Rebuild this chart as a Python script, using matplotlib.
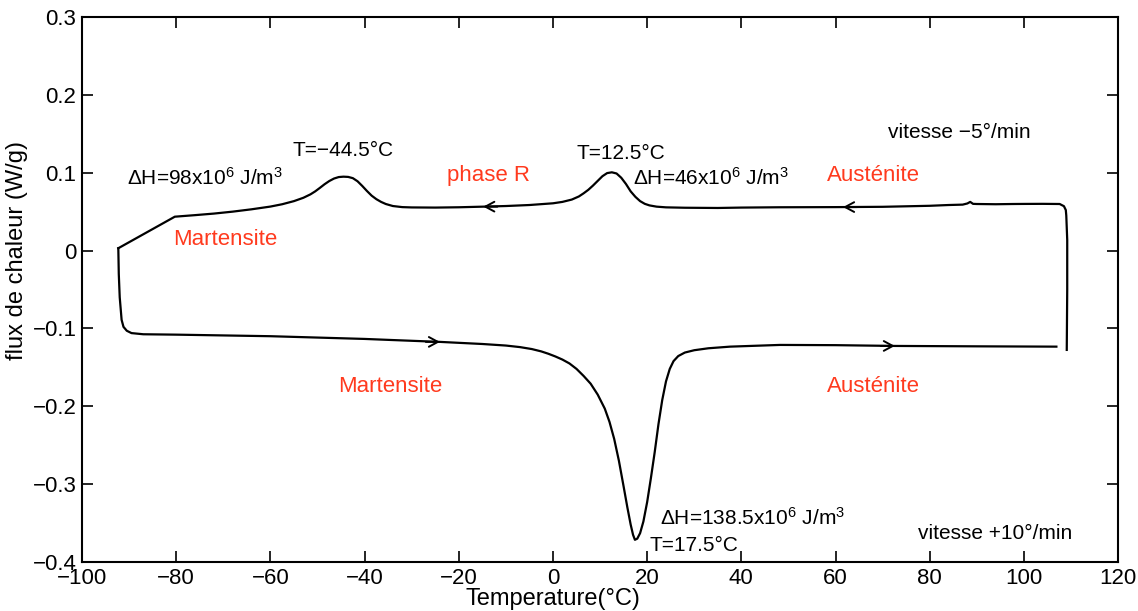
import numpy as np
import matplotlib.pyplot as plt
from matplotlib.ticker import FixedLocator, FixedFormatter

# DSC loop: cooling branch (right to left) then heating branch (left to right)
cool_T = [109.1, 109.2, 109.2, 109.0, 108.9, 108.5, 107.6, 104.0, 100.0, 97.7,
          94.0, 90.0, 89.2, 88.6, 88.0, 87.0, 84.0, 80.0, 70.0, 60.0, 48.0,
          40.0, 35.0, 28.0, 24.0, 22.0, 20.5, 19.5, 18.5, 17.5, 16.5, 15.5,
          14.5, 13.5, 12.5, 11.5, 10.5, 9.5, 8.5, 7.5, 6.5, 5.5, 4.0, 2.0,
          0.0, -5.0, -10.0, -14.8, -20.0, -25.0, -30.0, -32.0, -34.0, -35.5,
          -36.5, -37.5, -38.5, -39.5, -40.5, -41.5, -42.5, -43.5, -44.5, -45.5,
          -46.5, -47.5, -48.5, -49.5, -50.5, -51.5, -53.0, -55.0, -57.5, -60.0,
          -64.0, -68.0, -72.0, -76.0, -80.3, -92.3]
cool_Y = [-0.1276, -0.05, 0.0136, 0.045, 0.052, 0.057, 0.0598, 0.0600, 0.0599, 0.0598,
          0.0595, 0.0598, 0.0600, 0.0625, 0.0605, 0.0590, 0.0585, 0.0575, 0.0562, 0.0558, 0.0556,
          0.0552, 0.0547, 0.0550, 0.0555, 0.0564, 0.0580, 0.0600, 0.0635, 0.0690, 0.0760, 0.0855,
          0.0935, 0.0990, 0.1005, 0.0995, 0.0955, 0.0895, 0.0835, 0.0780, 0.0735, 0.0695, 0.0655, 0.0625,
          0.0607, 0.0585, 0.0572, 0.0564, 0.0556, 0.0552, 0.0554, 0.0558, 0.0572, 0.0598,
          0.0625, 0.0660, 0.0705, 0.0765, 0.0830, 0.0890, 0.0930, 0.0946, 0.0949, 0.0944,
          0.0925, 0.0893, 0.0852, 0.0805, 0.0760, 0.0722, 0.0678, 0.0635, 0.0595, 0.0565,
          0.0530, 0.0500, 0.0475, 0.0455, 0.0435, 0.0030]

heat_T = [-92.3, -92.2, -92.0, -91.6, -91.2, -90.5, -89.5, -87.0, -80.0, -60.0,
          -40.0, -34.6, -24.0, -15.0, -10.0, -7.0, -4.5, -2.5, -1.0, 0.5, 2.0,
          3.5, 5.0, 6.5, 8.0, 9.5, 11.0, 12.0, 13.0, 14.0, 15.0, 15.8, 16.5,
          17.0, 17.4, 17.9, 18.5, 19.2, 20.0, 20.8, 21.6, 22.4, 23.2, 24.0,
          24.8, 25.6, 26.6, 28.0, 30.0, 33.0, 37.6, 48.2, 60.0, 72.6, 90.0, 106.9]
heat_Y = [0.003, -0.030, -0.060, -0.089, -0.098, -0.103, -0.106, -0.1075, -0.108, -0.110,
          -0.1135, -0.1148, -0.1173, -0.1200, -0.1220, -0.1240, -0.1265, -0.1295, -0.1325, -0.1360, -0.1400,
          -0.1450, -0.1520, -0.1610, -0.1710, -0.1850, -0.2030, -0.2200, -0.2420, -0.2700, -0.3030, -0.3300, -0.3520,
          -0.3650, -0.3715, -0.3700, -0.3630, -0.3480, -0.3230, -0.2920, -0.2590, -0.2230, -0.1920, -0.1680,
          -0.1520, -0.1420, -0.1355, -0.1310, -0.1280, -0.1255, -0.1234, -0.1212, -0.1215, -0.1225, -0.1230, -0.1234]

# where the direction arrows sit on each branch
cool_arrows = [-14.8, 61.6]
heat_arrows = [-24.0, 72.6]

xticks = [-100, -80, -60, -40, -20, 0, 20, 40, 60, 80, 100, 120]
yticks = [-0.4, -0.3, -0.2, -0.1, 0, 0.1, 0.2, 0.3]
ytick_labels = ['\u22120.4', '\u22120.3', '\u22120.2', '\u22120.1', '0', '0.1', '0.2', '0.3']

red = '#ff3a1e'

plt.rcParams['font.family'] = ['Liberation Sans', 'DejaVu Sans']
plt.rcParams['mathtext.fontset'] = 'custom'
plt.rcParams['mathtext.rm'] = 'Liberation Sans'
plt.rcParams['mathtext.it'] = 'Liberation Sans:italic'

fig = plt.figure(figsize=(11.38, 6.11), dpi=100)
ax = fig.add_axes([0.0721, 0.0802, 0.9104, 0.892])

ax.plot(cool_T, cool_Y, color='black', lw=1.6)
ax.plot(heat_T, heat_Y, color='black', lw=1.6)

# open chevrons showing the scan direction
def add_arrows(ts, xs, ys, sign):
    order = np.argsort(xs)
    xs_sorted = np.array(xs)[order]
    ys_sorted = np.array(ys)[order]
    for t in ts:
        y = np.interp(t, xs_sorted, ys_sorted)
        ax.annotate('', xy=(t, y), xytext=(t - sign * 3, y),
                    arrowprops=dict(arrowstyle='->,head_length=0.65,head_width=0.35',
                                    color='black', lw=1.4, shrinkA=0, shrinkB=0))

add_arrows(cool_arrows, cool_T, cool_Y, -1)
add_arrows(heat_arrows, heat_T, heat_Y, 1)

ax.set_xlim(-100, 120)
ax.set_ylim(-0.4, 0.3)
ax.xaxis.set_major_locator(FixedLocator(xticks))
ax.xaxis.set_major_formatter(FixedFormatter([str(v).replace('-', '\u2212') for v in xticks]))
ax.yaxis.set_major_locator(FixedLocator(yticks))
ax.yaxis.set_major_formatter(FixedFormatter(ytick_labels))
ax.tick_params(direction='in', length=8, width=1.2, top=True, right=True, labelsize=16, pad=4)
for s in ax.spines.values():
    s.set_linewidth(1.5)

# axis labels are centred on the data origin
ax.set_xlabel('Temperature(°C)', fontsize=17)
ax.set_ylabel('flux de chaleur (W/g)', fontsize=17)
ax.xaxis.set_label_coords(100 / 220, -0.047)
ax.yaxis.set_label_coords(-0.052, 0.4 / 0.7)

fs = 15
ax.text(71.1, 0.151, 'vitesse \u22125°/min', fontsize=fs, va='center')
ax.text(77.5, -0.370, 'vitesse +10°/min', fontsize=fs, va='baseline')
ax.text(-55.4, 0.121, 'T=\u221244.5°C', fontsize=fs, va='baseline')
ax.text(5.0, 0.117, 'T=12.5°C', fontsize=fs, va='baseline')
ax.text(20.6, -0.3865, 'T=17.5°C', fontsize=fs, va='baseline')
ax.text(-90.5, 0.0842, r'$\Delta$H=98x10$^{6}$ J/m$^{3}$', fontsize=fs, va='baseline')
ax.text(17.05, 0.0842, r'$\Delta$H=46x10$^{6}$ J/m$^{3}$', fontsize=fs, va='baseline')
ax.text(22.7, -0.352, r'$\Delta$H=138.5x10$^{6}$ J/m$^{3}$', fontsize=fs, va='baseline')

fr = 16
ax.text(-22.5, 0.0958, 'phase R', fontsize=fr, color=red, va='center')
ax.text(58.1, 0.096, 'Austénite', fontsize=fr, color=red, va='center')
ax.text(-80.6, 0.0145, 'Martensite', fontsize=fr, color=red, va='center')
ax.text(-45.6, -0.175, 'Martensite', fontsize=fr, color=red, va='center')
ax.text(58.1, -0.175, 'Austénite', fontsize=fr, color=red, va='center')

fig.savefig('out.png', dpi=100)
